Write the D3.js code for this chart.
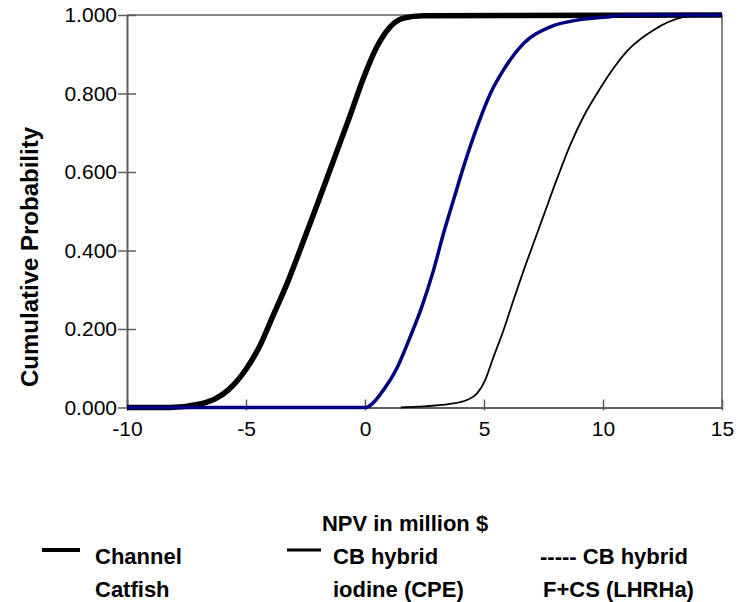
<!DOCTYPE html>
<html>
<head>
<meta charset="utf-8">
<script src="https://cdn.jsdelivr.net/npm/d3@7/dist/d3.min.js"></script>
<style>
  body { margin: 0; background: #fff; }
  text { font-family: Arial, "Liberation Sans", sans-serif; fill: #000; }
  .tick-label { font-size: 21px; }
  .titles { font-size: 22px; font-weight: bold; }
</style>
</head>
<body>
<svg id="chart" width="739" height="602"></svg>
<script>

// data: NPV (million $) and cumulative probability
var catfishX = [-10, -8.2, -6.93, -6.3, -5.74, -4.97, -4.41, -3.85, -3.28, -2.8, -2.3, -1.96, -1.32, -0.62, -0.06, 0.5, 1.06, 1.62, 2.45, 15];
var catfishP = [0, 0, 0.009, 0.022, 0.045, 0.1, 0.158, 0.236, 0.315, 0.39, 0.47, 0.525, 0.63, 0.745, 0.84, 0.919, 0.97, 0.992, 0.998, 1];

var iodineX = [-10, 0, 0.78, 1.34, 1.9, 2.39, 2.88, 3.3, 3.72, 4.14, 4.71, 5.27, 5.82, 6.67, 7.79, 8.91, 10.03, 11, 15];
var iodineP = [0, 0, 0.045, 0.1, 0.18, 0.257, 0.35, 0.444, 0.529, 0.613, 0.715, 0.8, 0.86, 0.928, 0.97, 0.987, 0.994, 1, 1];

var lhrhaX = [1.5, 2.18, 3.58, 4.28, 4.71, 5.05, 5.4, 5.82, 6.24, 6.67, 7.09, 7.51, 8.07, 8.63, 9.19, 9.75, 10.3, 11.01, 12.13, 13.39, 14, 15];
var lhrhaP = [0, 0.002, 0.009, 0.019, 0.036, 0.07, 0.129, 0.197, 0.274, 0.35, 0.42, 0.49, 0.583, 0.67, 0.742, 0.8, 0.852, 0.908, 0.962, 0.995, 1, 1];

var xTicks = [-10, -5, 0, 5, 10, 15];
var yTicks = [0, 0.2, 0.4, 0.6, 0.8, 1];

var legendLabels = [["Channel", "Catfish"], ["CB hybrid", "iodine (CPE)"], ["----- CB hybrid", "F+CS (LHRHa)"]];

var svg = d3.select("#chart");

// plot area
var pLeft = 127, pRight = 722, pTop = 15, pBottom = 407.5;

var x = d3.scaleLinear().domain([-10, 15]).range([pLeft, pRight]);
var y = d3.scaleLinear().domain([0, 1]).range([pBottom, pTop]);

// frame on top and right
svg.append("path")
  .attr("d", "M" + pLeft + "," + pTop + "H" + pRight + "V" + pBottom)
  .attr("fill", "none")
  .attr("stroke", "#858585")
  .attr("stroke-width", 2);

// y axis
var yaxis = svg.append("g")
  .attr("transform", "translate(" + pLeft + ",0)")
  .call(d3.axisLeft(y).tickValues(yTicks).tickFormat(d3.format(".3f")).tickSize(9).tickSizeOuter(0));

yaxis.select(".domain").attr("stroke", "#5e5e5e").attr("stroke-width", 2);
yaxis.selectAll(".tick line").attr("stroke", "#5e5e5e").attr("stroke-width", 1.5).attr("x2", -9).attr("x1", 9);
yaxis.selectAll(".tick text")
  .attr("class", "tick-label")
  .attr("x", -10)
  .attr("font-size", null)
  .attr("font-family", null);

// x axis
var xaxis = svg.append("g")
  .attr("transform", "translate(0," + pBottom + ")")
  .call(d3.axisBottom(x).tickValues(xTicks).tickFormat((d) => { return String(d); }).tickSize(0).tickSizeOuter(0));

xaxis.select(".domain").attr("stroke", "#5e5e5e").attr("stroke-width", 2);
xaxis.selectAll(".tick line").attr("stroke", "#5e5e5e").attr("stroke-width", 1.5).attr("y1", -8).attr("y2", 3);
xaxis.selectAll(".tick text")
  .attr("class", "tick-label")
  .attr("y", 14)
  .attr("font-size", null)
  .attr("font-family", null);

// curves
var line = d3.line()
  .x((d) => { return x(d[0]); })
  .y((d) => { return y(d[1]); })
  .curve(d3.curveMonotoneX);

var series = [
  {xs: catfishX, ps: catfishP, color: "#000", width: 5.5},
  {xs: lhrhaX, ps: lhrhaP, color: "#000", width: 1.8},
  {xs: iodineX, ps: iodineP, color: "#000080", width: 3.5}
];

svg.selectAll("path.cdf")
  .data(series)
  .enter().append("path")
  .attr("class", "cdf")
  .attr("fill", "none")
  .attr("stroke", (d) => { return d.color; })
  .attr("stroke-width", (d) => { return d.width; })
  .attr("stroke-linejoin", "round")
  .attr("d", (d) => { return line(d.xs.map((v, i) => [v, d.ps[i]])); });

// axis titles
svg.append("text")
  .text("Cumulative Probability")
  .attr("class", "titles")
  .style("font-size", "24px")
  .attr("text-anchor", "middle")
  .attr("transform", "translate(38,257)rotate(-90)");

svg.append("text")
  .text("NPV in million $")
  .attr("class", "titles")
  .attr("text-anchor", "middle")
  .attr("x", 405)
  .attr("y", 531);

// legend
var legendX = [95, 333, 540];
var legend = svg.selectAll("g.legend")
  .data(legendLabels)
  .enter().append("g")
  .attr("class", "legend")
  .attr("transform", (d, i) => { return "translate(" + legendX[i] + ",0)"; });

legend.append("text")
  .attr("class", "titles")
  .attr("y", 564)
  .text((d) => { return d[0]; });

legend.append("text")
  .attr("class", "titles")
  .attr("x", (d, i) => { return i == 2 ? 3 : 0; })
  .attr("y", 597)
  .text((d) => { return d[1]; });

// legend swatches for the first two entries
var swatch = [{x0: 42, x1: 80, w: 4}, {x0: 287, x1: 321, w: 3}];
svg.selectAll("line.swatch")
  .data(swatch)
  .enter().append("line")
  .attr("class", "swatch")
  .attr("x1", (d) => { return d.x0; })
  .attr("x2", (d) => { return d.x1; })
  .attr("y1", 550)
  .attr("y2", 550)
  .attr("stroke", "#000")
  .attr("stroke-width", (d) => { return d.w; });

</script>
</body>
</html>
